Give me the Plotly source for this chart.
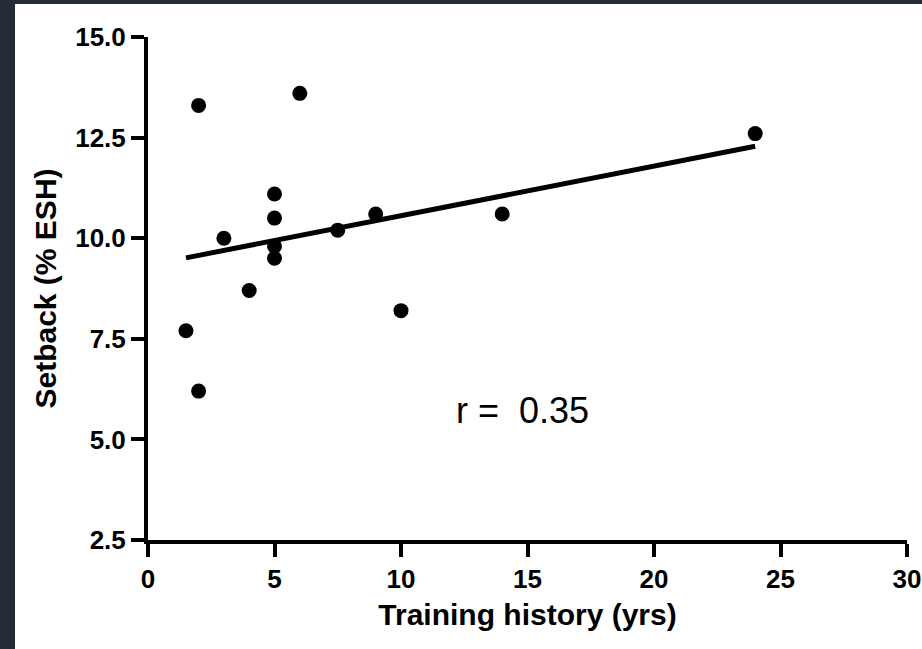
import numpy as np
import plotly.graph_objects as go

# Training history (years) vs setback (% ESH)
training_years = [2, 6, 24, 5, 5, 5, 5, 3, 7.5, 9, 14, 4, 1.5, 2, 10]
setback_pct = [13.3, 13.6, 12.6, 11.1, 10.5, 9.8, 9.5, 10.0, 10.2, 10.6, 10.6, 8.7, 7.7, 6.2, 8.2]

x_ticks = [0, 5, 10, 15, 20, 25, 30]
y_ticks = [2.5, 5.0, 7.5, 10.0, 12.5, 15.0]

x = np.array(training_years, dtype=float)
y = np.array(setback_pct, dtype=float)
slope, intercept = np.polyfit(x, y, 1)
r = np.corrcoef(x, y)[0, 1]
fit_x = np.array([x.min(), x.max()])
fit_y = slope * fit_x + intercept

FONT = "Liberation Sans, Arial, sans-serif"
W, H = 922, 649
ML, MR, MT, MB = 148, 15, 37, 109
pw, ph = W - ML - MR, H - MT - MB

fig = go.Figure()
fig.add_trace(go.Scatter(x=fit_x, y=fit_y, mode="lines",
                         line=dict(color="black", width=5), showlegend=False))
fig.add_trace(go.Scatter(x=x, y=y, mode="markers",
                         marker=dict(color="black", size=15), showlegend=False))

# white panel over the dark page background
fig.add_shape(type="rect", xref="paper", yref="paper",
              x0=(15 - ML) / pw, x1=(W - ML) / pw + 0.05,
              y0=-(MB + 5) / ph, y1=(H - MB - 4) / ph,
              fillcolor="white", line=dict(width=0), layer="below")

fig.add_annotation(x=14.8, y=5.73, text=f"r =\u00a0 {r:.2f}", showarrow=False,
                   font=dict(family=FONT, size=36, color="black"))

axis_common = dict(showline=True, linecolor="black", linewidth=4,
                   ticks="outside", ticklen=13, tickwidth=4, tickcolor="black",
                   showgrid=False, zeroline=False, automargin=False,
                   tickfont=dict(family=FONT, size=26, color="black", weight="bold"))

fig.update_layout(
    width=W, height=H,
    margin=dict(l=ML, r=MR, t=MT, b=MB, autoexpand=False),
    paper_bgcolor="#242b34",
    plot_bgcolor="white",
    xaxis=dict(range=[0, 30], tickvals=x_ticks, ticktext=[str(v) for v in x_ticks],
               title=dict(text="Training history (yrs)", standoff=12,
                          font=dict(family=FONT, size=30, color="black", weight="bold")),
               **axis_common),
    yaxis=dict(range=[2.5, 15], tickvals=y_ticks, ticktext=[f"{v:.1f}" for v in y_ticks],
               title=dict(text="Setback (% ESH)", standoff=11,
                          font=dict(family=FONT, size=30, color="black", weight="bold")),
               **axis_common),
)

fig.write_html("out.html")
